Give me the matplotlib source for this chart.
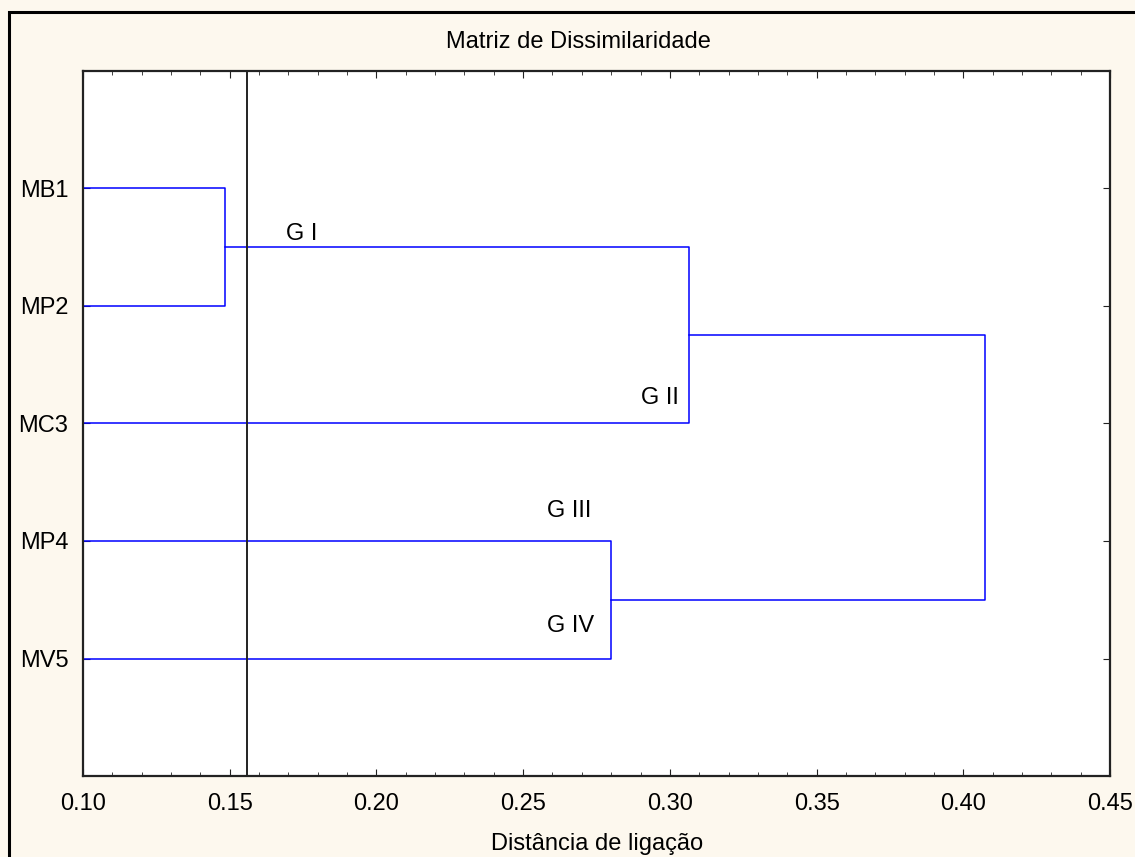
import matplotlib.pyplot as plt
from matplotlib.patches import Rectangle
from matplotlib.ticker import MultipleLocator

plt.rcParams['font.family'] = ['Liberation Sans', 'DejaVu Sans']

# folhas (de cima para baixo) e fusões do agrupamento
folhas = ['MB1', 'MP2', 'MC3', 'MP4', 'MV5']
fusoes = [('MB1', 'MP2', 0.1484),
          ('MP4', 'MV5', 0.2800),
          ('MB1+MP2', 'MC3', 0.3065),
          ('MB1+MP2+MC3', 'MP4+MV5', 0.4074)]
corte = 0.1559

grupos = ['G I', 'G II', 'G III', 'G IV']
grupos_x = [0.1745, 0.2965, 0.2656, 0.2660]
grupos_y = [1.385, 2.785, 3.745, 4.725]

fig = plt.figure(figsize=(11.35, 8.57), dpi=100, facecolor='#fdf8ee')
ax = fig.add_axes([0.0731, 0.0945, 0.9049, 0.8227])
ax.set_facecolor('white')

# moldura externa
fig.patches.append(Rectangle((9/1135, -0.1), 1.2, 1 - 12/857 + 0.1, transform=fig.transFigure,
                             fill=False, edgecolor='black', linewidth=2.2))

xmin = 0.10
pos = {nome: (xmin, i + 1) for i, nome in enumerate(folhas)}
for a, b, h in fusoes:
    xa, ya = pos[a]
    xb, yb = pos[b]
    ax.plot([xa, h, h, xb], [ya, ya, yb, yb], color='#0000ff', linewidth=1.1)
    pos[a + '+' + b] = (h, (ya + yb) / 2)

ax.axvline(corte, color='#222222', linewidth=1.4)

for g, gx, gy in zip(grupos, grupos_x, grupos_y):
    ax.text(gx, gy, g, fontsize=17, ha='center', va='center')

ax.set_xlim(0.10, 0.45)
ax.set_ylim(6, 0)
ax.set_yticks(range(1, 6))
ax.set_yticklabels(folhas)
ax.xaxis.set_major_locator(MultipleLocator(0.05))
ax.xaxis.set_minor_locator(MultipleLocator(0.01))
ax.xaxis.set_major_formatter(plt.FormatStrFormatter('%.2f'))
ax.tick_params(axis='both', which='both', direction='in', top=True, right=True, labelsize=17, color='#222222')
ax.tick_params(axis='x', which='major', length=5, pad=12)
ax.tick_params(axis='x', which='minor', length=3)
ax.tick_params(axis='y', which='major', length=5, pad=10.5)
for s in ax.spines.values():
    s.set_linewidth(1.6)
    s.set_color('#222222')

fig.text(578/1135, 1 - 42/857, 'Matriz de Dissimilaridade', fontsize=17, ha='center', va='center')
fig.text(597/1135, 1 - 844/857, 'Distância de ligação', fontsize=17, ha='center', va='center')

fig.savefig('out.png', dpi=100, facecolor=fig.get_facecolor())
plt.close()
